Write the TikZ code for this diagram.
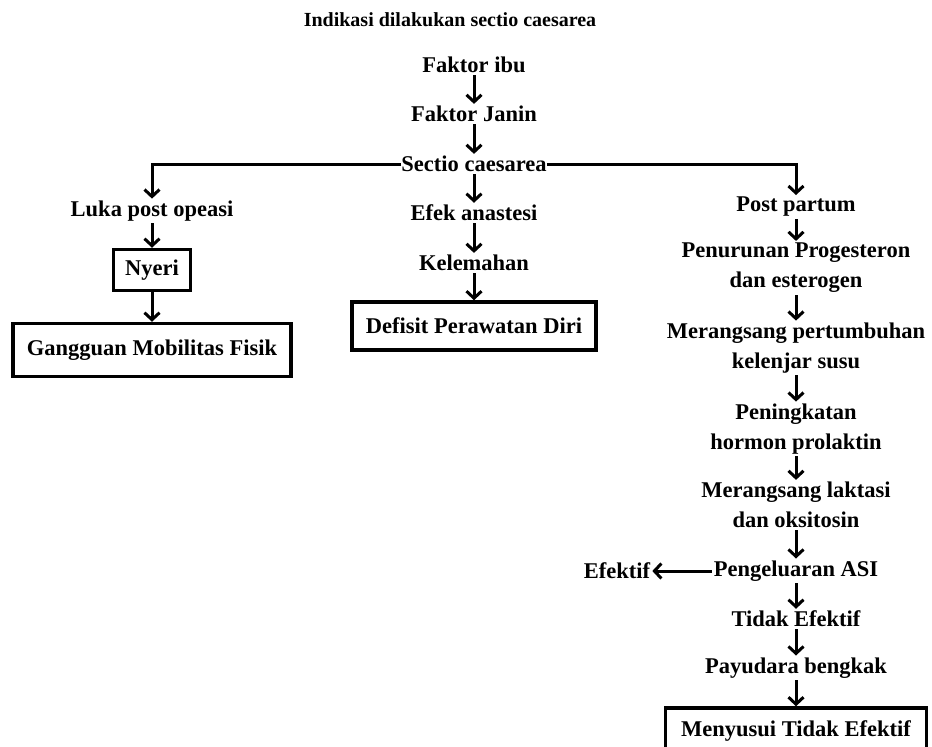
\documentclass[tikz,border=0pt]{standalone}
\usepackage{fontspec}
\setmainfont{Liberation Serif}
\usetikzlibrary{arrows.meta}

\begin{document}
\begin{tikzpicture}[x=1pt,y=-1pt,
    txt/.style={font=\fontsize{22.5}{30}\selectfont\bfseries, align=center, inner sep=2pt},
    boxed/.style={txt, draw, line width=3.5pt, inner xsep=10pt},
    arr/.style={line width=3pt, -{Straight Barb[length=7pt,width=15pt,line width=3pt]}},
    branch/.style={line width=3pt}]
      \useasboundingbox (0,0) rectangle (932,747);

      \node[font=\fontsize{20}{24}\selectfont\bfseries] (title) at (450,20) {Indikasi dilakukan sectio caesarea};

      \node[txt] (ibu) at (474,65) {Faktor ibu};
      \node[txt] (janin) at (474,114) {Faktor Janin};
      \node[txt] (sc) at (474,164) {Sectio caesarea};

      \node[txt] (luka) at (152,211) {Luka post opeasi};
      \node[boxed, minimum width=77, minimum height=41] (nyeri) at (152,270) {Nyeri};
      \node[boxed, minimum width=278, minimum height=53] (ggn) at (152,350) {Gangguan Mobilitas Fisik};

      \node[txt] (efek) at (474,213) {Efek anastesi};
      \node[txt] (lemah) at (474,263) {Kelemahan};
      \node[boxed, minimum width=244, minimum height=48] (defisit) at (474,326) {Defisit Perawatan Diri};

      \node[txt] (post) at (796,207) {Post partum};
      \node[txt] (turun) at (796,268) {Penurunan Progesteron\\dan esterogen};
      \node[txt] (kelenjar) at (796,348) {Merangsang pertumbuhan\\kelenjar susu};
      \node[txt] (prolaktin) at (796,429) {Peningkatan\\hormon prolaktin};
      \node[txt] (laktasi) at (796,505) {Merangsang laktasi\\dan oksitosin};
      \node[txt] (asi) at (796,571) {Pengeluaran ASI};
      \node[txt] (efektif) at (617,571) {Efektif};
      \node[txt] (tidak) at (796,619) {Tidak Efektif};
      \node[txt] (bengkak) at (796,668) {Payudara bengkak};
      \node[boxed, minimum width=261, minimum height=46] (menyusui) at (796,731) {Menyusui Tidak Efektif};

      \draw[arr] (ibu) -- (janin);
      \draw[arr] (janin) -- (sc);

      \draw[arr, shorten <=-2pt] (sc.west) -| (luka.north);
      \draw[arr, shorten <=-2pt] (sc.east) -| (post.north);
      \draw[arr] (sc) -- (efek);

      \draw[arr] (luka) -- (nyeri);
      \draw[arr] (nyeri) -- (ggn);

      \draw[arr] (efek) -- (lemah);
      \draw[arr] (lemah) -- (defisit);

      \draw[arr] (post) -- (turun);
      \draw[arr] (turun) -- (kelenjar);
      \draw[arr] (kelenjar) -- (prolaktin);
      \draw[arr] (prolaktin) -- (laktasi);
      \draw[arr] (laktasi) -- (asi);
      \draw[arr] (asi) -- (efektif);
      \draw[arr] (asi) -- (tidak);
      \draw[arr] (tidak) -- (bengkak);
      \draw[arr] (bengkak) -- (menyusui);
    \end{tikzpicture}
\end{document}
